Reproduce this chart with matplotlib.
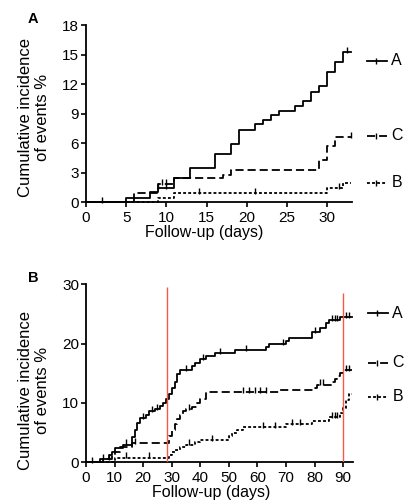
import matplotlib
matplotlib.use("Agg")
import matplotlib.pyplot as plt

plt.rcParams["font.family"] = ["Liberation Sans", "DejaVu Sans"]

# panel A (30 days)
a_t = [0, 5, 8, 9, 11, 13, 16, 18, 19, 21, 22, 23, 24, 26, 27, 28, 29, 30, 31, 32]
a_y = [0, 0.45, 1.0, 1.4, 2.4, 3.5, 4.9, 5.9, 7.3, 7.9, 8.4, 8.9, 9.3, 9.8, 10.3, 11.2, 11.8, 13.2, 14.3, 15.3]
c_t = [0, 6, 9, 11, 17, 18, 29, 30, 31]
c_y = [0, 0.9, 1.8, 2.4, 2.7, 3.3, 4.3, 5.7, 6.6]
b_t = [0, 9, 11, 30, 32]
b_y = [0, 0.45, 0.9, 1.45, 1.9]
a_cens = [2, 9, 10, 32.5]
c_cens = [9.5, 10, 33]
b_cens = [14, 21, 31.5]

# panel B (90 days)
a2_t = [0, 5, 8, 9, 10, 13, 16, 17, 18, 19, 21, 22, 24, 26, 27, 28, 29, 30, 31, 32, 33,
        37, 38, 40, 42, 45, 52, 63, 64, 70, 71, 79, 82, 84, 85, 89]
a2_y = [0, 0.6, 1.2, 1.8, 2.4, 3.0, 4.2, 5.4, 6.6, 7.5, 8.0, 8.6, 9.0, 9.5, 10.0, 10.6, 11.5,
        12.5, 13.5, 14.8, 15.5, 16.2, 16.8, 17.4, 17.9, 18.4, 18.9, 19.5, 20.0, 20.5, 21.0,
        22.0, 22.6, 23.5, 24.0, 24.5]
c2_t = [0, 6, 9, 10, 12, 16, 29, 30, 31, 32, 33, 34, 35, 37, 39, 40, 42, 68, 80, 81, 86, 87, 88, 89, 90]
c2_y = [0, 0.6, 1.2, 1.8, 2.6, 3.2, 4.5, 5.5, 6.5, 7.3, 8.0, 8.6, 9.0, 9.4, 10.0, 10.6, 11.8,
        12.2, 12.6, 13.1, 13.5, 14.0, 14.5, 15.0, 15.5]
b2_t = [0, 10, 29, 30, 31, 33, 35, 38, 40, 50, 51, 53, 55, 70, 79, 85, 89, 90, 91, 92]
b2_y = [0, 0.8, 1.2, 1.7, 2.1, 2.5, 3.0, 3.4, 3.8, 4.5, 5.0, 5.5, 6.0, 6.4, 6.9, 7.6, 8.3, 9.2, 10.5, 11.5]
a2_cens = [2, 6, 14, 20, 23, 25, 35, 41, 47, 56, 69, 80, 86, 87, 88, 91, 92]
c2_cens = [8, 17, 36, 55, 57, 59, 61, 63, 82, 83, 91, 92]
b2_cens = [14, 22, 36, 44, 62, 66, 72, 75, 86, 87, 88]

red_x = [28.5, 90]
red_top = [29.5, 28.5]

labels = ["A", "C", "B"]
styles = {"A": "-", "C": (0, (4.5, 2.2)), "B": (0, (1.6, 1.2))}


def value_at(ts, ys, x):
    v = ys[0]
    for t, y in zip(ts, ys):
        if t <= x:
            v = y
    return v


def draw_curve(ax, ts, ys, cens, end, style):
    xs = list(ts) + [end]
    yv = list(ys) + [ys[-1]]
    ax.step(xs, yv, where="post", color="black", lw=1.3, ls=style, clip_on=False)
    cy = [value_at(ts, ys, c) for c in cens]
    ax.plot(cens, [y + 0.012 * ax.get_ylim()[1] for y in cy], ls="none", marker="|",
            ms=5, mew=1.0, color="black", clip_on=False)


def setup(ax, xlim, ylim, xticks, yticks, xlab_x, ylab_y):
    ax.set_xlim(*xlim)
    ax.set_ylim(*ylim)
    ax.set_xticks(xticks)
    ax.set_yticks(yticks)
    for s in ["top", "right"]:
        ax.spines[s].set_visible(False)
    for s in ["left", "bottom"]:
        ax.spines[s].set_linewidth(1.3)
    ax.tick_params(direction="out", length=3.5, width=1.2, labelsize=11)
    ax.tick_params(axis="x", pad=3)
    ax.tick_params(axis="y", pad=1.5)
    ax.set_xlabel("Follow-up (days)", fontsize=11.5)
    ax.xaxis.set_label_coords(xlab_x, -0.13)
    ax.set_ylabel("Cumulative incidence\nof events %", fontsize=12, linespacing=1.15)
    ax.yaxis.set_label_coords(-0.135, ylab_y)


def legend(ax, ypos):
    for lab in labels:
        y = ypos[lab]
        ax.plot([1.056, 1.092, 1.13], [y, y, y], transform=ax.transAxes, color="black",
                lw=1.3, ls=styles[lab], marker="|", markevery=[1], ms=4, clip_on=False)
        ax.text(1.148, y, lab, transform=ax.transAxes, ha="left", va="center", fontsize=11.5)


fig = plt.figure(figsize=(4.08, 5.04), dpi=100)

ax1 = fig.add_axes([0.2108, 0.5992, 0.652, 0.3506])
setup(ax1, (0, 33.1), (0, 18), range(0, 31, 5), range(0, 19, 3), 0.444, 0.48)
draw_curve(ax1, a_t, a_y, a_cens, 33, styles["A"])
draw_curve(ax1, c_t, c_y, c_cens, 33, styles["C"])
draw_curve(ax1, b_t, b_y, b_cens, 33, styles["B"])
legend(ax1, {"A": 0.798, "C": 0.374, "B": 0.109})
fig.text(0.081, 0.963, "A", fontsize=10.5, fontweight="bold", ha="center", va="center")

ax2 = fig.add_axes([0.2108, 0.0827, 0.654, 0.3532])
setup(ax2, (0, 93.4), (0, 30), range(0, 91, 10), range(0, 31, 10), 0.468, 0.406)
ax2.vlines(red_x, 0, red_top, color="#f05a4a", lw=1.0, zorder=3)
draw_curve(ax2, a2_t, a2_y, a2_cens, 93, styles["A"])
draw_curve(ax2, c2_t, c2_y, c2_cens, 93, styles["C"])
draw_curve(ax2, b2_t, b2_y, b2_cens, 93, styles["B"])
legend(ax2, {"A": 0.837, "C": 0.56, "B": 0.369})
fig.text(0.081, 0.448, "B", fontsize=10.5, fontweight="bold", ha="center", va="center")

fig.savefig("out.png", dpi=100)
